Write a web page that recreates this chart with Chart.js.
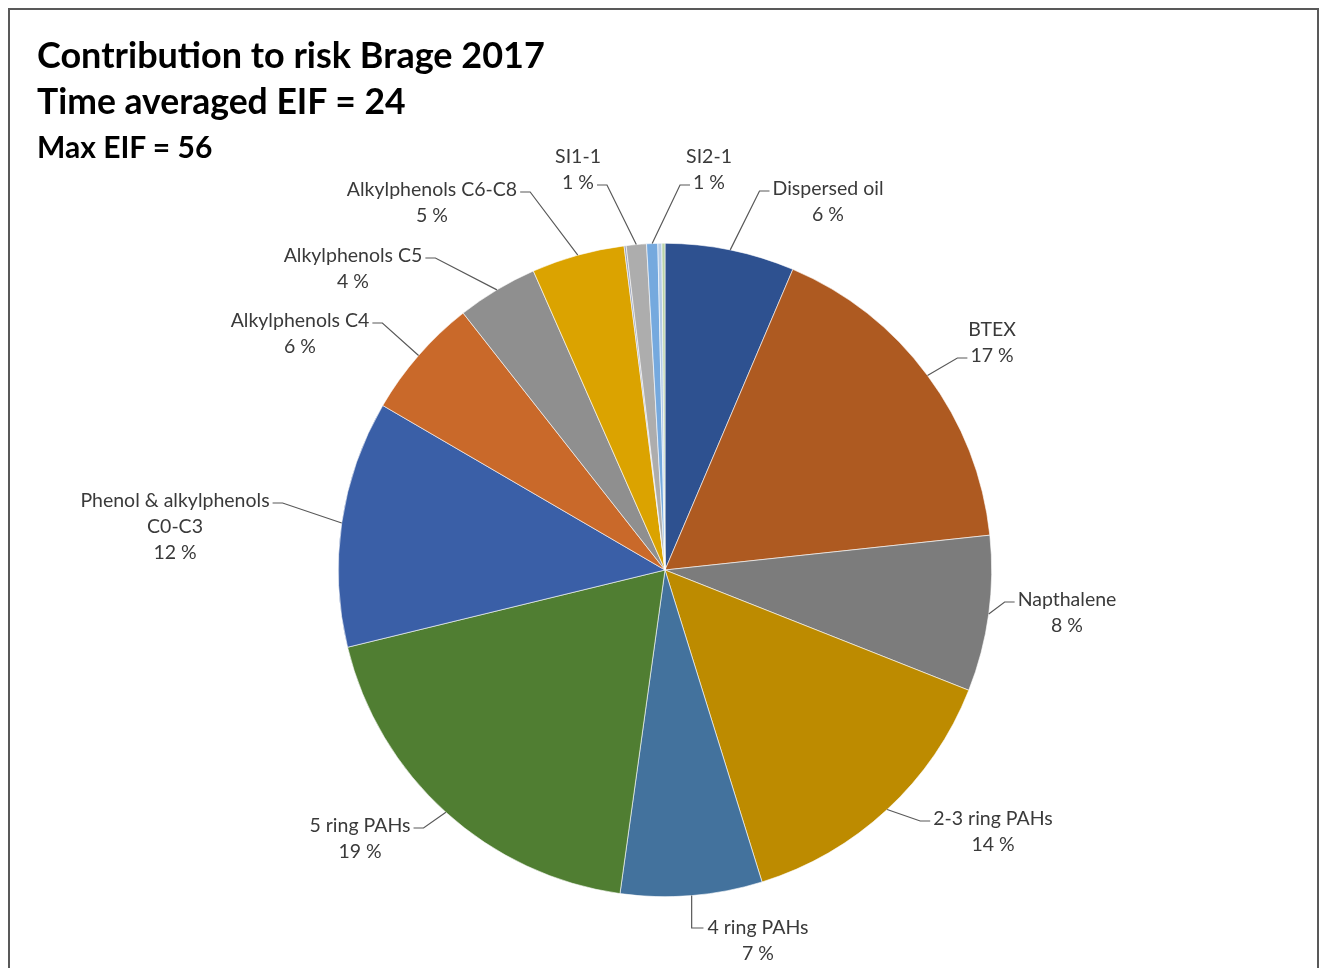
<!DOCTYPE html>
<html>
<head>
<meta charset="utf-8">
<script src="https://cdn.jsdelivr.net/npm/chart.js@4"></script>
<style>
    html, body { margin: 0; padding: 0; background: #fff; }
    #wrap { position: relative; width: 1320px; height: 968px; overflow: hidden; }
    #frame { position: absolute; left: 8px; top: 8px; width: 1311px; height: 980px; border: 2px solid #595959; box-sizing: border-box; }
    .ttl { position: absolute; left: 37px; font-family: Lato, sans-serif; font-weight: bold; color: #000; white-space: nowrap; }
    canvas { position: absolute; left: 0; top: 0; }
</style>
</head>
<body>
<div id="wrap">
    <div id="frame"></div>
    <canvas id="pieChart" width="1320" height="968"></canvas>
    <div class="ttl" style="top:32px;font-size:36px;">Contribution to risk Brage 2017</div>
    <div class="ttl" style="top:79px;font-size:35.5px;">Time averaged EIF = 24</div>
    <div class="ttl" style="top:128px;font-size:30px;">Max EIF = 56</div>
</div>
<script>
// Kategoriler (saat yönünde, tepeden başlayarak)
const categories = [
    'Dispersed oil', 'BTEX', 'Napthalene', '2-3 ring PAHs', '4 ring PAHs', '5 ring PAHs',
    'Phenol & alkylphenols C0-C3', 'Alkylphenols C4', 'Alkylphenols C5', 'Alkylphenols C6-C8',
    'Other 1', 'SI1-1', 'SI2-1', 'Other 2', 'Other 3'
];
const shares = [6.4, 16.9, 7.7, 14.2, 7.0, 19.0, 12.2, 6.0, 4.0, 4.6, 0.1, 1.0, 0.55, 0.2, 0.15];
const percentLabels = ['6 %', '17 %', '8 %', '14 %', '7 %', '19 %', '12 %', '6 %', '4 %', '5 %', '', '1 %', '1 %', '', ''];
const labelLines = [
    ['Dispersed oil'], ['BTEX'], ['Napthalene'], ['2-3 ring PAHs'], ['4 ring PAHs'], ['5 ring PAHs'],
    ['Phenol & alkylphenols', 'C0-C3'], ['Alkylphenols C4'], ['Alkylphenols C5'], ['Alkylphenols C6-C8'],
    [], ['SI1-1'], ['SI2-1'], [], []
];

const sliceColors = [
    '#2E5190', '#AE5A21', '#7C7C7C', '#BD8B00', '#43729D', '#507E32',
    '#3A5FA7', '#C9692A', '#8F8F8F', '#DBA300',
    '#98A2BC', '#ADADAD', '#75A9DE', '#B4CBE6', '#B9D3A8'
];

// Etiket kutularının yerleşimi: [merkez x, ilk satır y, leader bağlanan satır]
const labelLayout = [
    [828, 189, 0], [992, 330, 1], [1067, 600, 0], [993, 819, 0], [758, 928, 0], [360, 826, 0],
    [175, 501, 0], [300, 321, 0], [353, 256, 0], [432, 190, 0],
    null, [578, 157, 1], [709, 157, 1], null, null
];

const LABEL_FONT = '19.5px Lato, sans-serif';
const LINE_H = 26;

const labelPlugin = {
    id: 'pieLabels',
    afterDatasetsDraw(chart) {
        const ctx = chart.ctx;
        const arcs = chart.getDatasetMeta(0).data;
        ctx.save();
        ctx.font = LABEL_FONT;
        ctx.textAlign = 'center';
        ctx.textBaseline = 'middle';
        arcs.forEach((arc, i) => {
            const lay = labelLayout[i];
            if (!lay) return;
            const lines = labelLines[i].concat([percentLabels[i]]);
            const [cx, cy, attach] = lay;

            // leader line
            const mid = (arc.startAngle + arc.endAngle) / 2;
            const ax = arc.x + Math.cos(mid) * arc.outerRadius;
            const ay = arc.y + Math.sin(mid) * arc.outerRadius;
            const ly = cy + attach * LINE_H;
            const w = ctx.measureText(lines[attach]).width;
            ctx.strokeStyle = '#595959';
            ctx.lineWidth = 1.2;
            ctx.beginPath();
            if (i === 4) {
                const ex = cx - w / 2 - 4;
                ctx.moveTo(ax, ay);
                ctx.lineTo(ax, ly);
                ctx.lineTo(ex, ly);
            } else if (ax < cx - w / 2) {
                const ex = cx - w / 2 - 3;
                ctx.moveTo(ax, ay);
                ctx.lineTo(ex - 10, ly + 2);
                ctx.lineTo(ex, ly + 2);
            } else {
                const ex = cx + w / 2 + 3;
                ctx.moveTo(ax, ay);
                ctx.lineTo(ex + 10, ly + 2);
                ctx.lineTo(ex, ly + 2);
            }
            ctx.stroke();

            ctx.fillStyle = '#3A3A3A';
            lines.forEach((t, k) => ctx.fillText(t, cx, cy + k * LINE_H));
        });
        ctx.restore();
    }
};

const ctx = document.getElementById('pieChart').getContext('2d');
new Chart(ctx, {
    type: 'pie',
    data: {
        labels: categories,
        datasets: [{
            data: shares,
            backgroundColor: sliceColors,
            borderColor: '#ffffff',
            borderWidth: 0.6
        }]
    },
    options: {
        responsive: false,
        animation: false,
        layout: { padding: { top: 243, bottom: 71, left: 338, right: 328 } },
        plugins: {
            legend: { display: false },
            tooltip: { enabled: false },
            title: { display: false }
        }
    },
    plugins: [labelPlugin]
});
</script>
</body>
</html>
